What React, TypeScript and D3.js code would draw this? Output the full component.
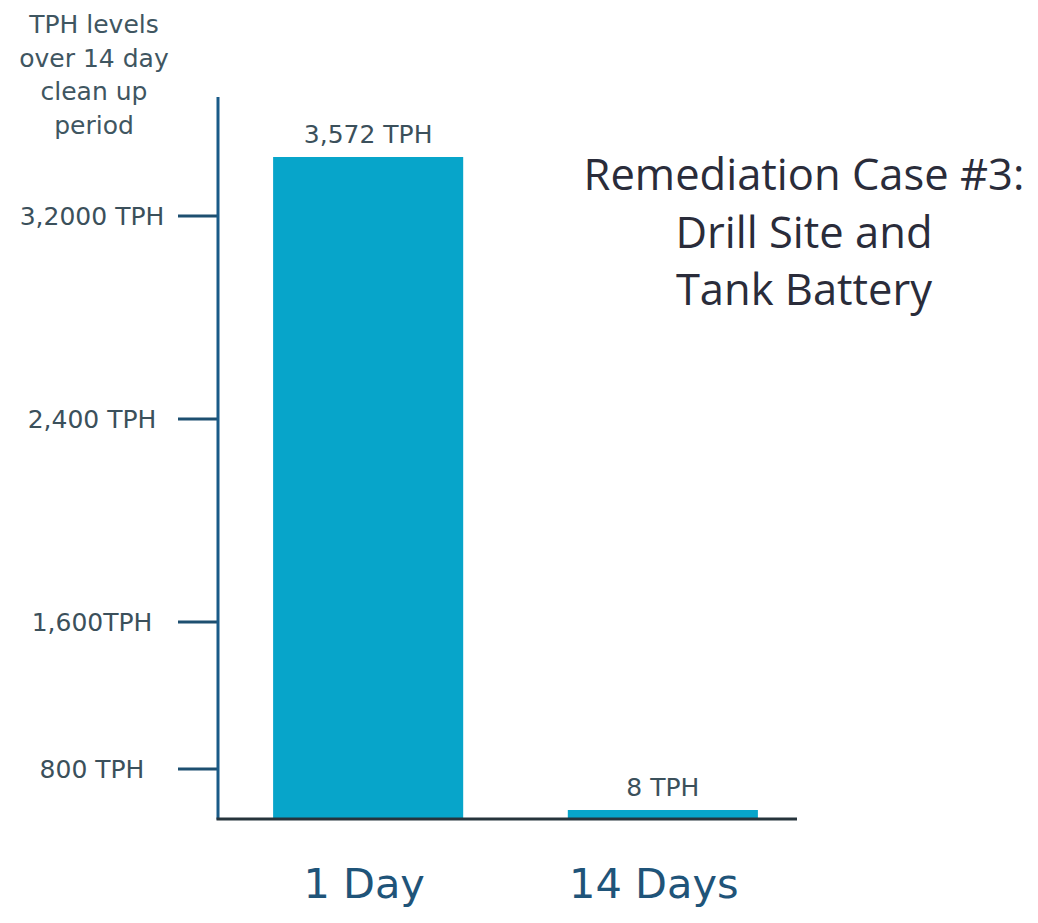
import React from "react";
import * as d3 from "d3";

const categories = ["1 Day", "14 Days"];
const values = [3572, 8];
const valueLabels = ["3,572 TPH", "8 TPH"];
const tickValues = [800, 1600, 2400, 3200];
const tickLabels = ["800 TPH", "1,600TPH", "2,400 TPH", "3,2000 TPH"];
const yAxisTitle = ["TPH levels", "over 14 day", "clean up", "period"];
const chartTitle = ["Remediation Case #3:", "Drill Site and", "Tank Battery"];

const W = 1038;
const H = 923;
const axisX = 218;
const baseY = 818;

export default function App() {
  // The original graphic is not drawn to a uniform scale; a piecewise linear scale reproduces its axis.
  const y = d3
    .scaleLinear()
    .domain([0, 800, 1600, 2400, 3200, 3572])
    .range([baseY, 769, 622, 419, 216, 157]);
  const x = d3
    .scaleBand<string>()
    .domain(categories)
    .range([axisX, 813])
    .paddingInner(0.355)
    .paddingOuter(0.187);

  const labelFont = "'DejaVu Sans', sans-serif";
  const labelColor = "#3b505b";

  return (
    <div style={{ position: "absolute", left: 0, top: 0 }}>
      <svg width={W} height={H} style={{ display: "block", background: "#ffffff" }}>
        {/* y axis title */}
        {yAxisTitle.map((t, i) => (
          <text
            key={t}
            x={94}
            y={33 + i * 33.5}
            textAnchor="middle"
            fontFamily={labelFont}
            fontSize={25}
            fill="#3f5661"
          >
            {t}
          </text>
        ))}

        {/* bars */}
        {categories.map((c, i) => {
          const top = y(values[i]);
          const h = Math.max(baseY - top, 8);
          return (
            <g key={c}>
              <rect x={x(c)} y={baseY - h} width={x.bandwidth()} height={h} fill="#07a5ca" />
              <text
                x={(x(c) as number) + x.bandwidth() / 2}
                y={baseY - h - 14}
                textAnchor="middle"
                fontFamily={labelFont}
                fontSize={25}
                fill={labelColor}
              >
                {valueLabels[i]}
              </text>
              <text
                x={(x(c) as number) + x.bandwidth() / 2 - 4 - i * 5}
                y={898}
                textAnchor="middle"
                fontFamily={labelFont}
                fontSize={41.5}
                fill="#1f5479"
              >
                {c}
              </text>
            </g>
          );
        })}

        {/* y ticks */}
        {tickValues.map((v, i) => (
          <g key={v}>
            <line x1={178} x2={axisX} y1={y(v)} y2={y(v)} stroke="#1d4f70" strokeWidth={3} />
            <text
              x={92}
              y={y(v) + 9}
              textAnchor="middle"
              fontFamily={labelFont}
              fontSize={25}
              fill={labelColor}
            >
              {tickLabels[i]}
            </text>
          </g>
        ))}

        {/* axes */}
        <line x1={axisX} x2={axisX} y1={97} y2={baseY + 1.5} stroke="#1a5b88" strokeWidth={3} />
        <line x1={axisX - 1.5} x2={797} y1={baseY + 1} y2={baseY + 1} stroke="#26343c" strokeWidth={3} />

        {/* chart title */}
        {chartTitle.map((t, i) => (
          <text
            key={t}
            x={804}
            y={190 + i * 57.5}
            textAnchor="middle"
            fontFamily="'Open Sans', sans-serif"
            fontSize={43.5}
            fill="#2a2c3a"
          >
            {t}
          </text>
        ))}
      </svg>
    </div>
  );
}
